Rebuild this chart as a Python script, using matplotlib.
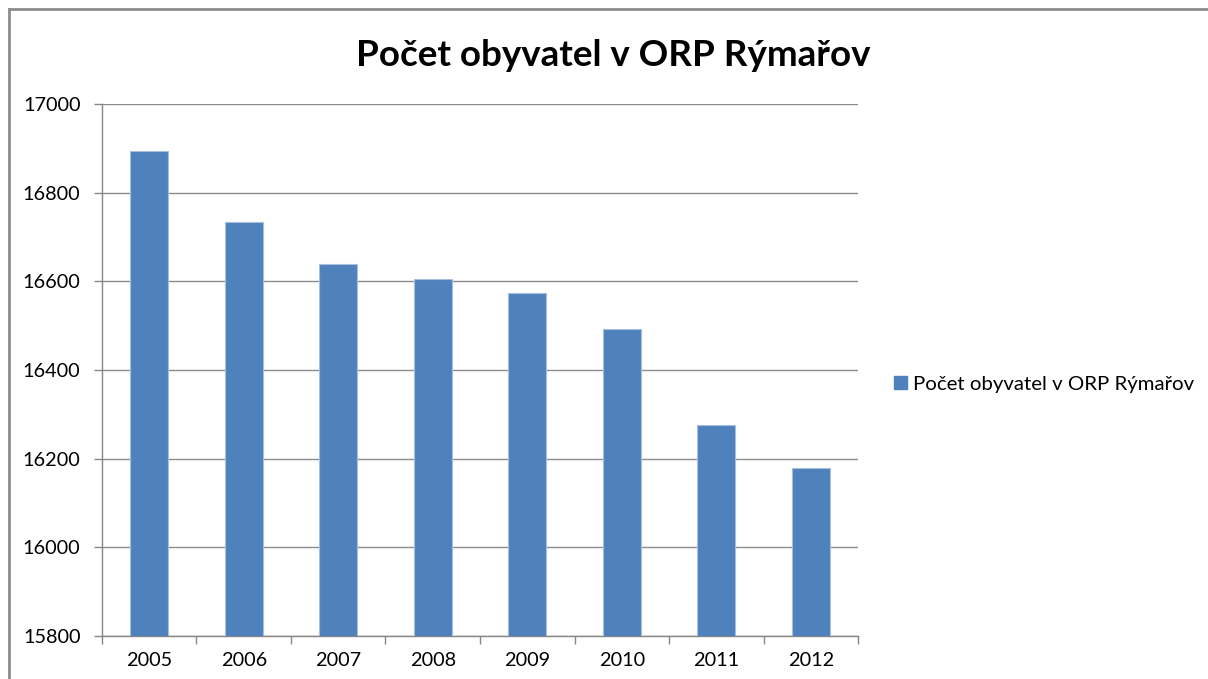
import matplotlib
matplotlib.use("Agg")
import matplotlib.pyplot as plt
import matplotlib.patches as mpatches
from matplotlib.lines import Line2D

# Data
years = ["2005", "2006", "2007", "2008", "2009", "2010", "2011", "2012"]
population = [16894, 16734, 16639, 16605, 16574, 16492, 16276, 16179]
y_ticks = [15800, 16000, 16200, 16400, 16600, 16800, 17000]

title = "Počet obyvatel v ORP Rýmařov"
series_name = "Počet obyvatel v ORP Rýmařov"

bar_color = "#4F81BD"
grid_color = "#8C8C8C"
axis_color = "#868686"

plt.rcParams["font.family"] = ["Lato", "DejaVu Sans"]

fig = plt.figure(figsize=(12.08, 6.79), dpi=100)
ax = fig.add_axes([0.0844, 0.0633, 0.6259, 0.7835])

x = range(len(years))
ax.bar(x, population, width=0.4, color=bar_color, edgecolor="#A7BFDE",
       linewidth=0.8, zorder=3)

ax.set_xlim(-0.5, len(years) - 0.5)
ax.set_ylim(15800, 17000)
ax.set_yticks(y_ticks)
ax.set_yticklabels([str(t) for t in y_ticks])
ax.set_xticks(list(x))
ax.set_xticklabels(years)

# Category boundary ticks on x axis (Excel style)
ax.set_xticks([i - 0.5 for i in range(len(years) + 1)], minor=True)
ax.tick_params(axis="x", which="major", length=0, labelsize=14.3, pad=11.5, colors="black")
ax.tick_params(axis="x", which="minor", length=6, color=axis_color, width=1)
ax.tick_params(axis="y", length=6, color=axis_color, width=1, labelsize=14.3, pad=9.5)

ax.yaxis.grid(True, color=grid_color, linewidth=1)
ax.set_axisbelow(True)
for s in ["top", "right"]:
    ax.spines[s].set_visible(False)
for s in ["left", "bottom"]:
    ax.spines[s].set_color(axis_color)
    ax.spines[s].set_linewidth(1)

fig.text(0.508, 0.918, title, ha="center", va="center", fontsize=26.5, fontweight="bold")

handle = mpatches.Patch(color=bar_color, label=series_name)
fig.legend(handles=[handle], loc="center left", bbox_to_anchor=(0.7315, 0.434),
           frameon=False, fontsize=14.7, handlelength=0.65, handleheight=0.65,
           handletextpad=0.3, borderpad=0)

# Outer chart border (top and left visible)
fig.add_artist(Line2D([0.0075, 1.0], [0.987, 0.987], transform=fig.transFigure,
                      color="#8C8C8C", linewidth=2))
fig.add_artist(Line2D([0.0075, 0.0075], [0.0, 0.987], transform=fig.transFigure,
                      color="#8C8C8C", linewidth=2))

fig.savefig("out.png", dpi=100)
